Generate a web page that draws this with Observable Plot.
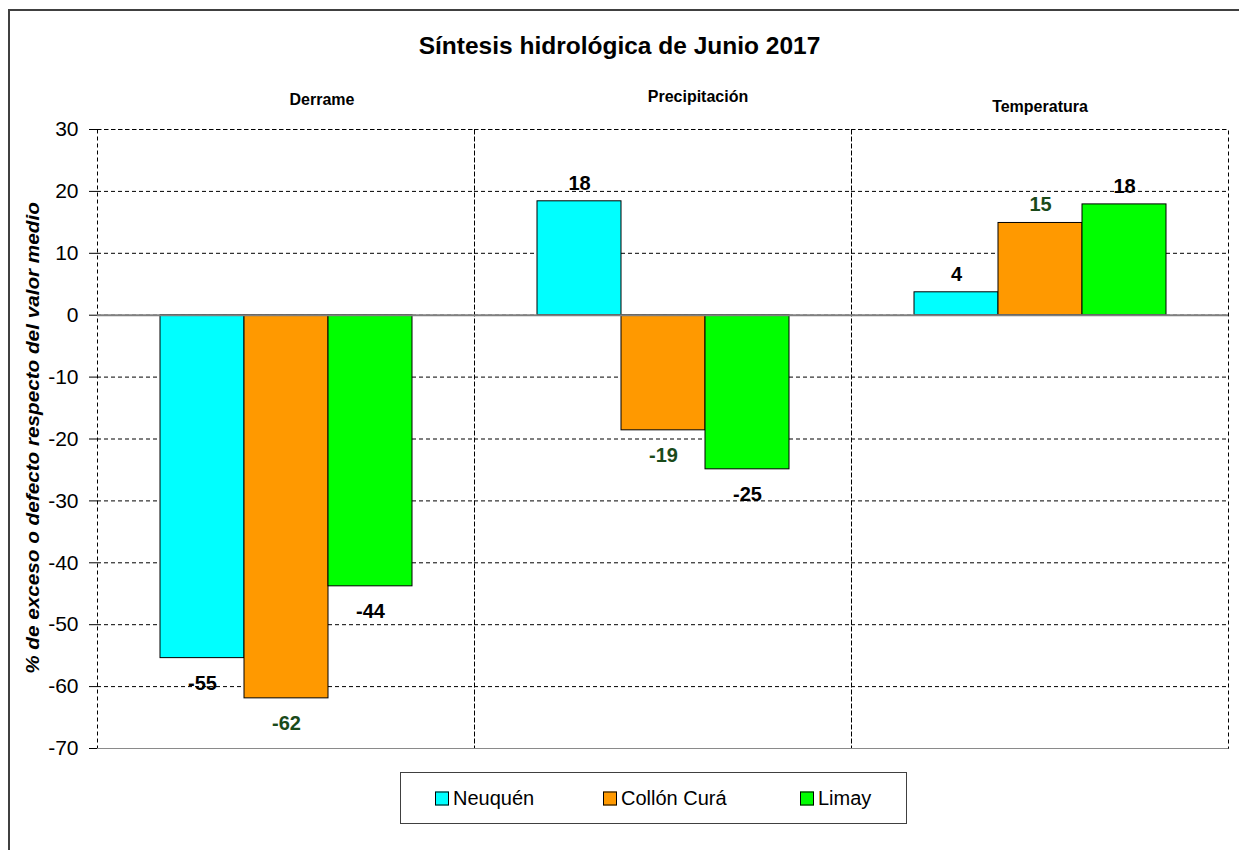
<!DOCTYPE html>
<html>
<head>
<meta charset="utf-8">
<script src="https://cdn.jsdelivr.net/npm/d3@7"></script>
<script src="https://cdn.jsdelivr.net/npm/@observablehq/plot@0.6"></script>
<style>
  html, body { margin: 0; padding: 0; background: #fff; }
  #wrap { position: relative; width: 1239px; height: 850px; overflow: hidden; font-family: "Liberation Sans", Arial, sans-serif; }
  #frame { position: absolute; left: 8px; top: 9px; width: 1300px; height: 900px; border-left: 2px solid #404040; border-top: 2px solid #404040; }
  #chart { position: absolute; left: 0; top: 0; }
  .title { position: absolute; left: 0; width: 1239px; top: 32px; text-align: center; font-weight: bold; font-size: 24.5px; color: #000; }
  .cat { position: absolute; font-weight: bold; font-size: 16px; color: #000; transform: translate(-50%, -50%); white-space: nowrap; }
  .ylab { position: absolute; left: 33px; top: 438px; transform: translate(-50%, -50%) rotate(-90deg) scale(1.15, 1); font-weight: bold; font-style: italic; font-size: 18px; white-space: nowrap; color: #000; }
  #legend { position: absolute; left: 400px; top: 772px; width: 507px; height: 52px; border: 1px solid #404040; box-sizing: border-box; }
  .item { position: absolute; top: 50%; transform: translateY(-50%); display: flex; align-items: center; font-size: 20px; color: #000; white-space: nowrap; }
  .sw { width: 14px; height: 14px; border: 1px solid #000; margin-right: 4px; box-sizing: border-box; }
</style>
</head>
<body>
<div id="wrap">
  <div id="frame"></div>
  <div id="chart"></div>
</div>
<script>
// ---- data ----
const categories = ["Derrame", "Precipitación", "Temperatura"];
const series = ["Neuquén", "Collón Curá", "Limay"];
const neuquen = [-55.4, 18.4, 3.7];
const collonCura = [-61.9, -18.6, 14.9];
const limay = [-43.8, -24.9, 17.9];
const yTicks = [-70, -60, -50, -40, -30, -20, -10, 0, 10, 20, 30];
const colors = ["#00FFFF", "#FF9900", "#00FF00"];
const labelColors = ["#000000", "#1a4a1a", "#000000"];

const seriesValues = [neuquen, collonCura, limay];
const data = [];
categories.forEach((c, i) => {
  series.forEach((s, j) => {
    data.push({category: c, series: s, value: seriesValues[j][i], labelColor: labelColors[j]});
  });
});

function labelMarks(subset, dy) {
  return labelColors.filter((v, i, a) => a.indexOf(v) === i).map(col =>
    Plot.text(subset.filter(d => d.labelColor === col), {
      fx: "category", x: "series", y: "value",
      text: d => String(Math.round(d.value)),
      dy, fill: col, fontWeight: "bold", fontSize: 20,
      fontFamily: "Liberation Sans, Arial, sans-serif",
      lineAnchor: "middle", textAnchor: "middle"
    })
  );
}

const chart = Plot.plot({
  width: 1239,
  height: 850,
  marginLeft: 96,
  marginRight: 11,
  marginTop: 129,
  marginBottom: 102,
  style: {fontFamily: "Liberation Sans, Arial, sans-serif", background: "transparent", overflow: "visible"},
  fx: {domain: categories, padding: 0, axis: null},
  x: {domain: series, paddingInner: 0, paddingOuter: 0.744, axis: null},
  y: {domain: [-70, 30]},
  color: {domain: series, range: colors},
  marks: [
    Plot.gridY(yTicks, {stroke: "#000", strokeOpacity: 1, strokeDasharray: "4,3"}),
    Plot.frame({stroke: "#000", strokeDasharray: "4,3"}),
    Plot.ruleY([-70], {stroke: "#8a8a8a"}),
    Plot.barY(data, {fx: "category", x: "series", y: "value", fill: "series", stroke: "#000", strokeWidth: 1}),
    Plot.ruleY([0], {stroke: "#808080", strokeWidth: 2}),
    Plot.axisY(yTicks, {tickSize: 8, tickPadding: 11, fontSize: 21, line: true, label: null, stroke: "#000", color: "#000", tickFormat: d => String(d)}),
    ...labelMarks(data.filter(d => d.value < 0), 25),
    ...labelMarks(data.filter(d => d.value >= 0), -18)
  ]
});
document.getElementById("chart").appendChild(chart);

const wrap = document.getElementById("wrap");
const title = document.createElement("div");
title.className = "title";
title.textContent = "Síntesis hidrológica de Junio 2017";
wrap.appendChild(title);

const catPos = [[322, 100], [698, 97], [1040, 107]];
categories.forEach((c, i) => {
  const el = document.createElement("div");
  el.className = "cat";
  el.style.left = catPos[i][0] + "px";
  el.style.top = catPos[i][1] + "px";
  el.textContent = c;
  wrap.appendChild(el);
});

const yl = document.createElement("div");
yl.className = "ylab";
yl.textContent = "% de exceso o defecto respecto del valor medio";
wrap.appendChild(yl);

const legend = document.createElement("div");
legend.id = "legend";
const itemLeft = [34, 202, 399];
series.forEach((s, i) => {
  const it = document.createElement("div");
  it.className = "item";
  it.style.left = itemLeft[i] + "px";
  const sw = document.createElement("div");
  sw.className = "sw";
  sw.style.background = colors[i];
  it.appendChild(sw);
  const t = document.createElement("span");
  t.textContent = s;
  it.appendChild(t);
  legend.appendChild(it);
});
wrap.appendChild(legend);
</script>
</body>
</html>
